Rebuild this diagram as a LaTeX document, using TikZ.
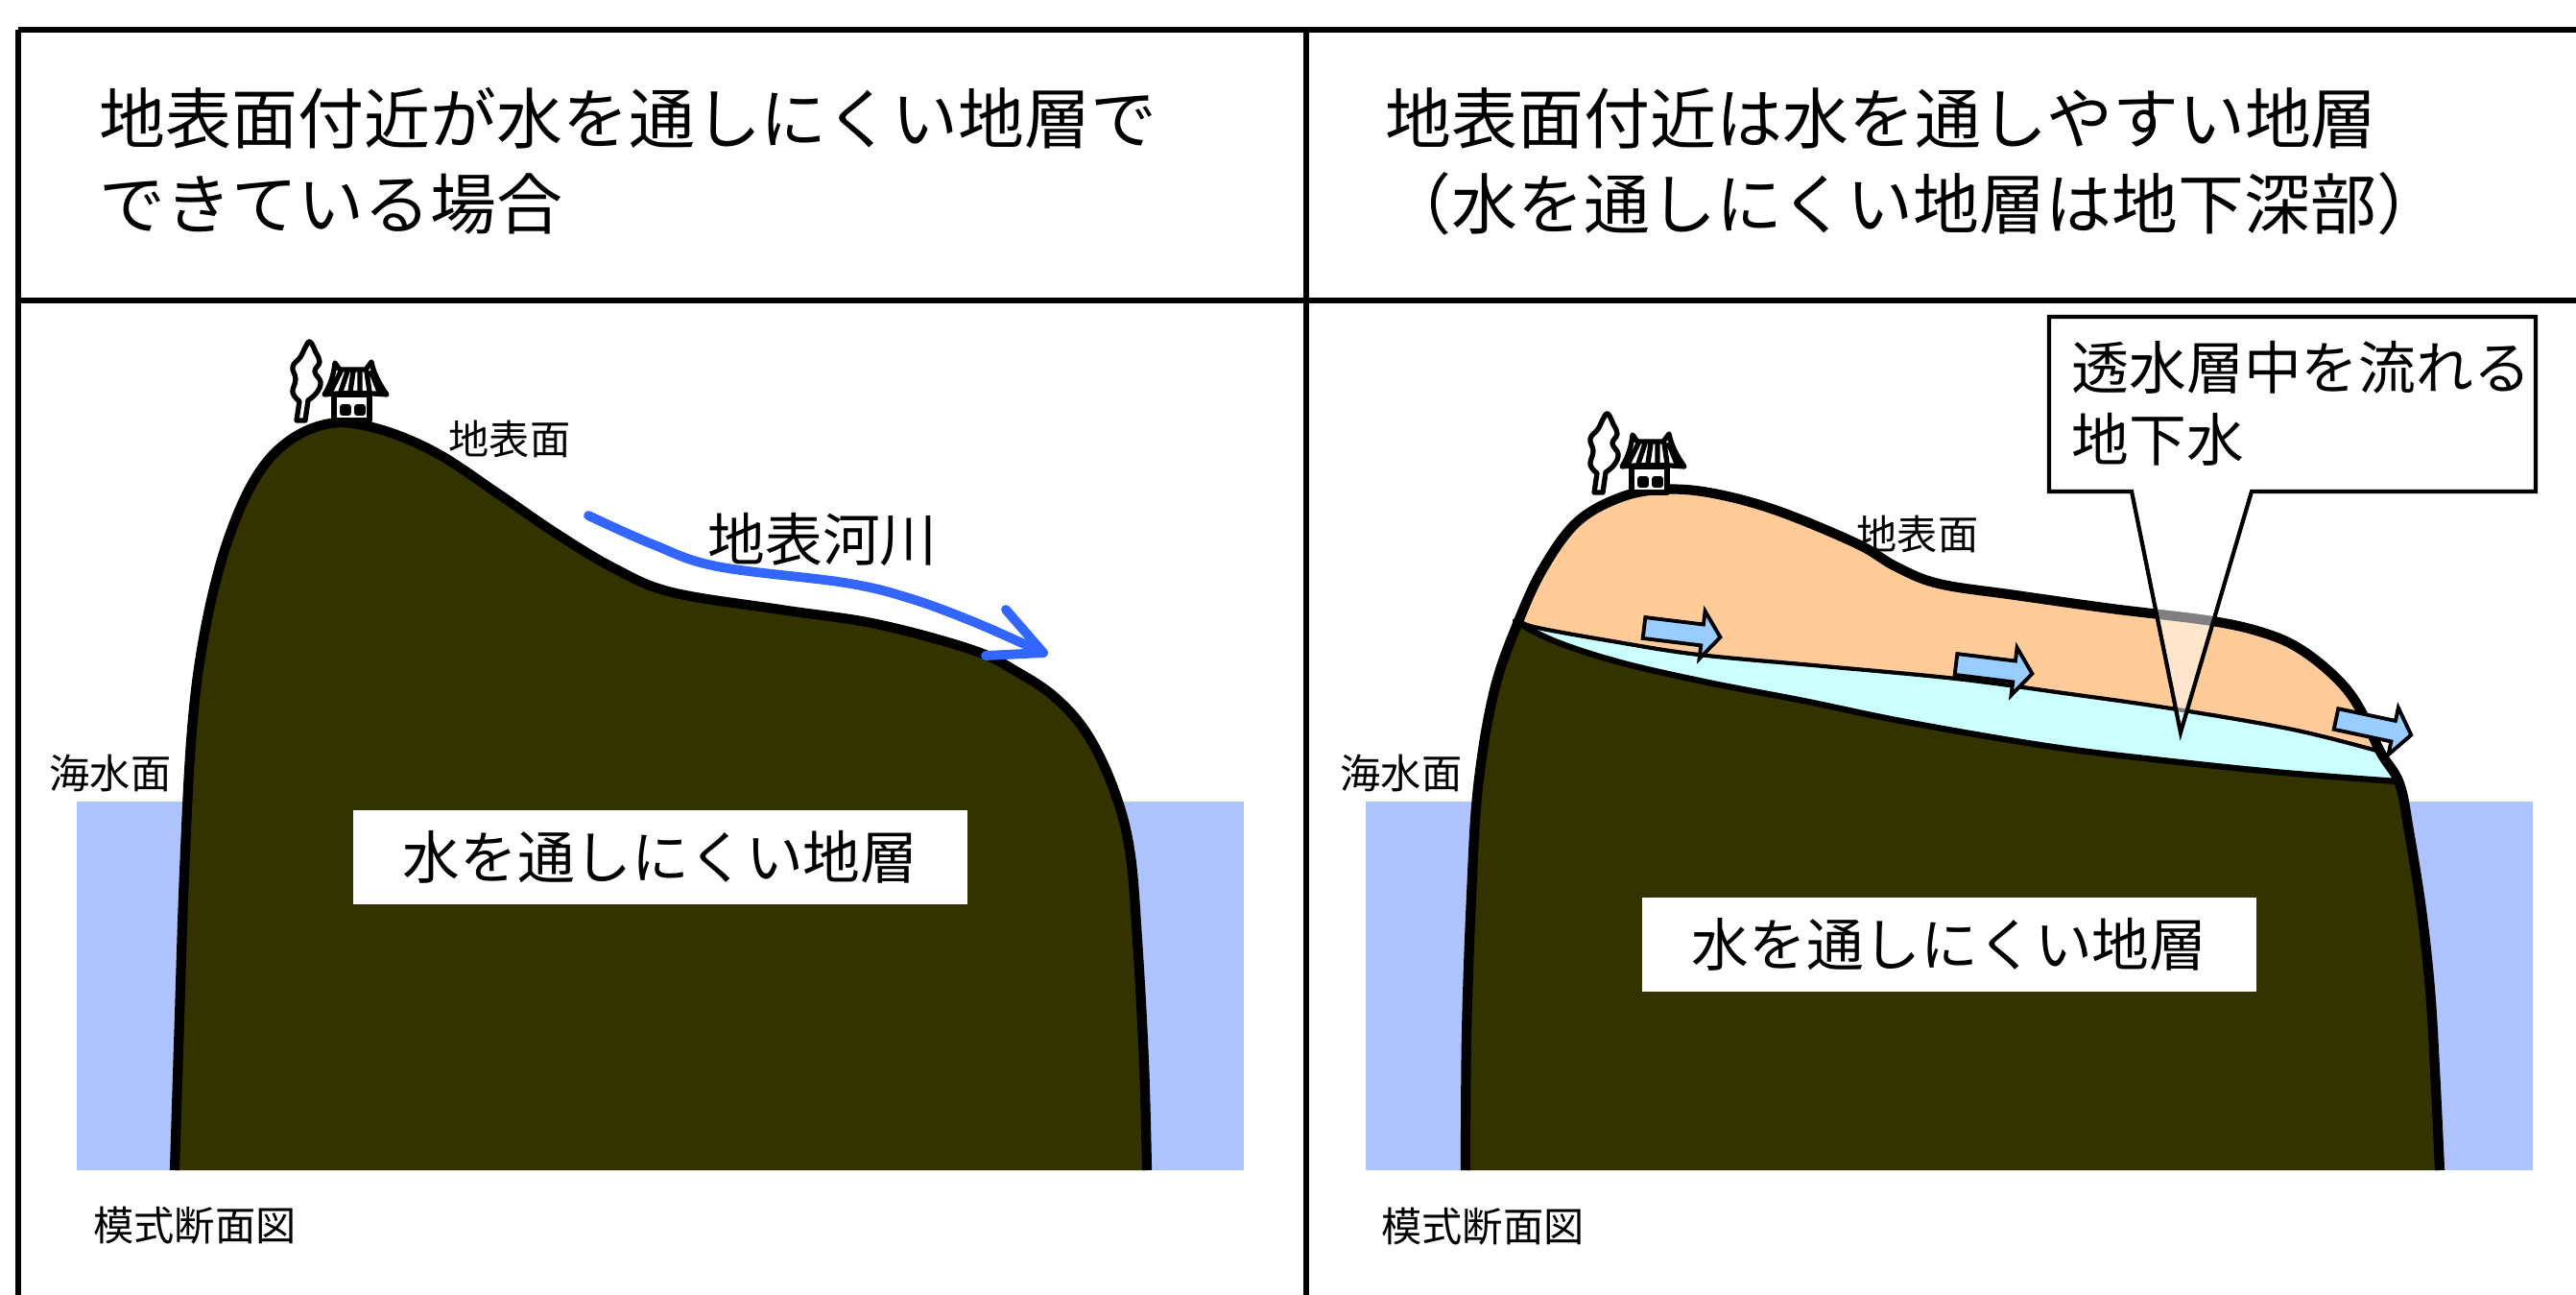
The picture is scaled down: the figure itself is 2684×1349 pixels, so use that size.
\documentclass[tikz,border=0pt]{standalone}
\usepackage{fontspec}
\setmainfont{Noto Sans CJK JP}
\definecolor{claycol}{HTML}{333300}
\definecolor{seacol}{HTML}{AFC3FF}
\definecolor{rivercol}{HTML}{3366FF}
\definecolor{sandcol}{HTML}{FFCC99}
\definecolor{aquacol}{HTML}{CCFFFF}
\definecolor{flowcol}{HTML}{99CCFF}
\tikzset{
  frameline/.style={line width=1.6pt},
  surfaceline/.style={line width=2.9pt, line join=round, line cap=round},
  smalltext/.style={inner sep=0pt, font=\fontsize{12pt}{14pt}\selectfont},
  bigtext/.style={inner sep=0pt, font=\fontsize{17pt}{21.3pt}\selectfont},
  headtext/.style={inner sep=0pt, anchor=west, align=left, font=\fontsize{19.6pt}{25.3pt}\selectfont},
  layerbox/.style={fill=white, inner sep=0pt, minimum width=6.4cm, minimum height=0.97cm, font=\fontsize{17pt}{21.3pt}\selectfont},
  icon/.style={line width=1.5pt, line join=round, line cap=round},
  flowarrow/.style={fill=flowcol, draw=black, line width=1.1pt, line join=miter},
  speechbox/.style={draw=black, line width=1.2pt, fill=white, fill opacity=0.5, line join=miter},
  % small hut with a tree beside it, origin at the foot of the tree
  hutpic/.pic={
    \draw[icon, fill=white] (4,0) -- plot[smooth, tension=0.7] coordinates
      {(7,-20) (0,-29) (3,-43) (0,-56) (8,-66) (13,-76) (18,-82) (24,-71)
       (28,-61) (23,-51) (29,-40) (25,-29) (16,-21)} -- (13,0) -- cycle;
    \draw[icon, fill=white] (43,-27) rectangle (80,0);
    \draw[icon] (52,-14) rectangle (58,-8);
    \draw[icon] (67,-14) rectangle (73,-8);
    \draw[icon, fill=white] (33,-27) .. controls (40,-38) and (43,-50) .. (44,-60)
      -- (49,-53) -- (76,-53) -- (82,-61)
      .. controls (84,-50) and (90,-38) .. (98,-27)
      .. controls (75,-29) and (55,-29) .. cycle;
    \draw[icon] (50,-51) -- (40,-31) (57,-51) -- (50,-30) (63,-51) -- (60,-30)
                (70,-51) -- (70,-30) (77,-51) -- (80,-30) (82,-50) -- (90,-30);
  }
}
\begin{document}
\begin{tikzpicture}[x=0.01cm, y=-0.01cm]
\useasboundingbox (0,0) rectangle (2684,1349);

% ---------- frame ----------
\coordinate (tl) at (19,31);
\coordinate (tr) at (2684,31);
\coordinate (ml) at (19,313);
\coordinate (mr) at (2684,313);
\coordinate (bl) at (19,1349);
\coordinate (dt) at (1361,31);
\coordinate (db) at (1361,1349);
\draw[frameline] (tl) -- (tr);
\draw[frameline] (ml) -- (mr);
\draw[frameline] (tl) -- (bl);
\draw[frameline] (dt) -- (db);

% ---------- headings ----------
\node[headtext] (lefthead) at (103,168) {地表面付近が水を通しにくい地層で\\できている場合};
\node[headtext] (righthead) at (1443,168) {地表面付近は水を通しやすい地層\\（水を通しにくい地層は地下深部）};

% ---------- left section ----------
\fill[seacol] (80,835) rectangle (1296,1219);

\fill[claycol] plot[smooth, tension=0.6] coordinates {
  (182,1219) (187,1060) (192,910) (200,760) (213,660) (235,570) (265,500)
  (300,460) (345,441) (395,447) (455,472) (520,515) (580,556) (640,592)
  (700,617) (813,635) (913,650) (1013,677) (1060,700) (1100,727) (1133,765)
  (1160,821) (1177,885) (1185,979) (1192,1107) (1195,1219)} -- cycle;
\draw[surfaceline, line cap=butt] plot[smooth, tension=0.6] coordinates {
  (182,1219) (187,1060) (192,910) (200,760) (213,660) (235,570) (265,500)
  (300,460) (345,441) (395,447) (455,472) (520,515) (580,556) (640,592)
  (700,617) (813,635) (913,650) (1013,677) (1060,700) (1100,727) (1133,765)
  (1160,821) (1177,885) (1185,979) (1192,1107) (1195,1219)};

\pic at (305,438) {hutpic};

% surface river
\coordinate (riverhead) at (1087,680);
\coordinate (barbup) at (1048,635);
\coordinate (barblow) at (1027,683);
\draw[rivercol, line width=2.8pt, line cap=round, line join=round]
  plot[smooth, tension=0.6] coordinates {(613,537) (680,567) (747,590) (880,607)
  (947,623) (1015,648) (1087,680)};
\draw[rivercol, line width=2.8pt, line cap=round, line join=round]
  (barbup) -- (riverhead) -- (barblow);
\node[bigtext] (rivertext) at (857,562) {地表河川};

\node[smalltext] (lsurf) at (531,457) {地表面};
\node[smalltext] (lsea) at (115,805) {海水面};
\node[smalltext] (lcap) at (203,1277) {模式断面図};
\node[layerbox] (lbox) at (688,893) {水を通しにくい地層};

% ---------- right section ----------
\fill[seacol] (1423,835) rectangle (2639,1219);

% impermeable base
\fill[claycol] plot[smooth, tension=0.6] coordinates {
  (1527,1219) (1528,1078) (1533,934) (1540,820) (1557,719) (1583,645)
  (1609,590) (1643,544) (1686,519) (1729,510) (1780,513) (1849,531)
  (1934,566) (1975,590) (2020,608) (2100,620) (2200,634) (2305,647)
  (2361,660) (2398,677) (2435,707) (2458,737) (2480,783) (2500,816)
  (2510,866) (2523,948) (2532,1031) (2537,1114) (2542,1219)} -- cycle;

% permeable upper layer
\fill[sandcol] plot[smooth, tension=0.6] coordinates {
  (1583,645) (1609,590) (1643,544) (1686,519) (1729,510) (1780,513) (1849,531)
  (1934,566) (1975,590) (2020,608) (2100,620) (2200,634) (2305,647)
  (2361,660) (2398,677) (2435,707) (2458,737) (2480,783)}
  -- plot[smooth, tension=0.6] coordinates {
  (2480,783) (2389,760) (2262,738) (2150,722) (2038,707) (1900,694)
  (1770,682) (1680,668) (1598,653) (1583,645)} -- cycle;

% groundwater band
\fill[aquacol] plot[smooth, tension=0.6] coordinates {
  (1583,645) (1598,653) (1680,668) (1770,682) (1900,694) (2038,707)
  (2150,722) (2262,738) (2389,760) (2480,783)}
  -- (2498,814)
  -- plot[smooth, tension=0.6] coordinates {
  (2498,814) (2380,805) (2262,793) (2160,781) (2070,767) (1970,749)
  (1879,730) (1780,711) (1688,690) (1620,668) (1579,647)} -- cycle;

\draw[line width=1.2pt, line cap=round] plot[smooth, tension=0.6] coordinates {
  (1583,645) (1598,653) (1680,668) (1770,682) (1900,694) (2038,707)
  (2150,722) (2262,738) (2389,760) (2480,783)};
\draw[line width=1.8pt, line cap=round] plot[smooth, tension=0.6] coordinates {
  (1579,647) (1620,668) (1688,690) (1780,711) (1879,730) (1970,749)
  (2070,767) (2160,781) (2262,793) (2380,805) (2498,814)};
\draw[surfaceline, line cap=butt] plot[smooth, tension=0.6] coordinates {
  (1527,1219) (1528,1078) (1533,934) (1540,820) (1557,719) (1583,645)
  (1609,590) (1643,544) (1686,519) (1729,510) (1780,513) (1849,531)
  (1934,566) (1975,590) (2020,608) (2100,620) (2200,634) (2305,647)
  (2361,660) (2398,677) (2435,707) (2458,737) (2480,783) (2500,816)
  (2510,866) (2523,948) (2532,1031) (2537,1114) (2542,1219)};

\pic at (1657,513) {hutpic};

% groundwater flow arrows
\begin{scope}[shift={(1713,654)}, rotate=-7]
  \draw[flowarrow] (0,-11) -- (61,-11) -- (61,-25) -- (80,0) -- (61,25) -- (61,11) -- (0,11) -- cycle;
\end{scope}
\begin{scope}[shift={(2038,692)}, rotate=-7]
  \draw[flowarrow] (0,-11) -- (61,-11) -- (61,-25) -- (80,0) -- (61,25) -- (61,11) -- (0,11) -- cycle;
\end{scope}
\begin{scope}[shift={(2434,749)}, rotate=-12]
  \draw[flowarrow] (0,-11) -- (61,-11) -- (61,-25) -- (80,0) -- (61,25) -- (61,11) -- (0,11) -- cycle;
\end{scope}

\node[smalltext] (rsurf) at (1998,556) {地表面};
\node[smalltext] (rsea) at (1460,805) {海水面};
\node[smalltext] (rcap) at (1545,1278) {模式断面図};
\node[layerbox] (rbox) at (2031,984) {水を通しにくい地層};

% callout for the groundwater
\coordinate (calltip) at (2272,763);
\draw[speechbox] (2135,330) -- (2642,330) -- (2642,512) -- (2346,512)
  -- (calltip) -- (2221,512) -- (2135,512) -- cycle;
\node[bigtext, anchor=west, align=left] (calltext) at (2158,420) {透水層中を流れる\\地下水};

\end{tikzpicture}
\end{document}
